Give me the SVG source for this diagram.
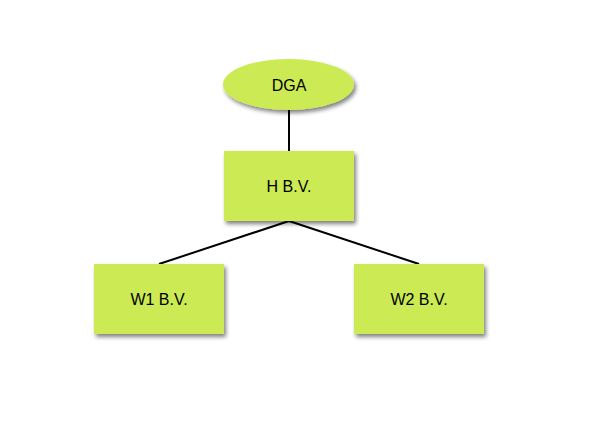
<svg xmlns="http://www.w3.org/2000/svg" width="616" height="425" viewBox="0 0 616 425">
<style>
.n{fill:#cbea52;filter:url(#sh)}
.t{font-family:"Liberation Sans",Arial,sans-serif;font-size:16px;fill:#000;text-anchor:middle;dominant-baseline:central}
.c{stroke:#000;stroke-width:2;fill:none}
</style>
<defs>
<filter id="sh" x="-20%" y="-20%" width="150%" height="150%">
<feGaussianBlur in="SourceAlpha" stdDeviation="2"/>
<feOffset dx="2" dy="3" result="b"/>
<feComponentTransfer><feFuncA type="linear" slope="0.5"/></feComponentTransfer>
<feMerge><feMergeNode/><feMergeNode in="SourceGraphic"/></feMerge>
</filter>
</defs>
<rect width="616" height="425" fill="#fff"/>
<g id="connectors">
<line class="c" x1="289" y1="110" x2="289" y2="151"/>
<line class="c" x1="289" y1="221" x2="159" y2="264"/>
<line class="c" x1="289" y1="221" x2="419" y2="264"/>
</g>
<g id="dga">
<ellipse class="n" cx="288.5" cy="84.5" rx="65.5" ry="25.5"/>
<text class="t" x="289" y="85">DGA</text>
</g>
<g id="h">
<rect class="n" x="224" y="151" width="130" height="70"/>
<text class="t" x="289" y="186">H B.V.</text>
</g>
<g id="w1">
<rect class="n" x="94" y="264" width="130" height="70"/>
<text class="t" x="159" y="299">W1 B.V.</text>
</g>
<g id="w2">
<rect class="n" x="354" y="264" width="130" height="70"/>
<text class="t" x="419" y="299">W2 B.V.</text>
</g>
</svg>
